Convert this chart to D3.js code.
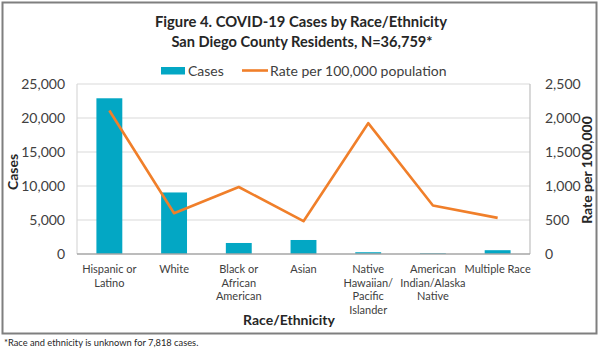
<!DOCTYPE html>
<html><head><meta charset="utf-8">
<script src="https://cdn.jsdelivr.net/npm/d3@7"></script>
<style>body{margin:0;background:#fff}svg{display:block;font-family:Lato,"Liberation Sans",sans-serif}</style>
</head><body>
<script>
const categories = [["Hispanic or","Latino"],["White"],["Black or","African","American"],["Asian"],["Native","Hawaiian/","Pacific","Islander"],["American","Indian/Alaska","Native"],["Multiple Race"]];
const cases = [22900, 9050, 1620, 2060, 260, 110, 560];
const rates = [2110, 600, 985, 482, 1924, 714, 531];
const leftTicks = [0, 5000, 10000, 15000, 20000, 25000];
const rightTicks = [0, 500, 1000, 1500, 2000, 2500];

const W = 600, H = 351;
const svg = d3.select("body").append("svg").attr("width", W).attr("height", H);
const m = {l: 77, r: 530, t: 84, b: 254};

svg.append("rect").attr("x", 2.5).attr("y", 2.5).attr("width", 594).attr("height", 331)
  .attr("fill", "#fff").attr("stroke", "#7f7f7f").attr("stroke-width", 2);

const x = d3.scaleBand().domain(d3.range(categories.length)).range([m.l, m.r]).padding(0);
const yL = d3.scaleLinear().domain([0, 25000]).range([m.b, m.t]);
const yR = d3.scaleLinear().domain([0, 2500]).range([m.b, m.t]);

// gridlines
svg.append("g").selectAll("line").data(leftTicks.slice(1)).join("line")
  .attr("x1", m.l).attr("x2", m.r).attr("y1", d => yL(d)).attr("y2", d => yL(d))
  .attr("stroke", "#d9d9d9").attr("stroke-width", 1.2);
svg.append("line").attr("x1", m.l).attr("x2", m.l).attr("y1", m.t).attr("y2", m.b).attr("stroke", "#d9d9d9").attr("stroke-width", 1.2);
svg.append("line").attr("x1", m.r).attr("x2", m.r).attr("y1", m.t).attr("y2", m.b).attr("stroke", "#bfbfbf").attr("stroke-width", 1.2);

// bars
const bw = x.bandwidth() * 0.4;
svg.append("g").selectAll("rect").data(cases).join("rect")
  .attr("x", (d, i) => x(i) + x.bandwidth() / 2 - bw / 2)
  .attr("width", bw)
  .attr("y", d => yL(d)).attr("height", d => yL(0) - yL(d))
  .attr("fill", "#03A7C4");

svg.append("line").attr("x1", m.l).attr("x2", m.r).attr("y1", m.b).attr("y2", m.b).attr("stroke", "#a6a6a6").attr("stroke-width", 1.5);

// line
const line = d3.line().x((d, i) => x(i) + x.bandwidth() / 2).y(d => yR(d));
svg.append("path").datum(rates).attr("d", line).attr("fill", "none")
  .attr("stroke", "#F07F2A").attr("stroke-width", 2.6).attr("stroke-linejoin", "round");

// axes
const fmt = d3.format(",");
const axL = d3.axisLeft(yL).tickValues(leftTicks).tickFormat(fmt).tickSize(0).tickPadding(12);
const gL = svg.append("g").attr("transform", `translate(${m.l},0)`).call(axL);
gL.select(".domain").remove();
gL.selectAll("text").attr("font-size", 14).attr("fill", "#404040").attr("font-family", "Lato,sans-serif");

const axR = d3.axisRight(yR).tickValues(rightTicks).tickFormat(fmt).tickSize(0).tickPadding(15);
const gR = svg.append("g").attr("transform", `translate(${m.r},0)`).call(axR);
gR.select(".domain").remove();
gR.selectAll("text").attr("font-size", 14).attr("fill", "#404040").attr("font-family", "Lato,sans-serif");

// x labels
const gx = svg.append("g");
categories.forEach((lines, i) => {
  const cx = x(i) + x.bandwidth() / 2;
  const t = gx.append("text").attr("x", cx).attr("y", 273)
    .attr("text-anchor", "middle").attr("font-size", 11).attr("fill", "#404040");
  lines.forEach((s, j) => t.append("tspan").attr("x", cx).attr("dy", j ? 13.5 : 0).text(s));
});

// axis titles
svg.append("text").attr("transform", "translate(18,172) rotate(-90)").attr("text-anchor", "middle")
  .attr("font-size", 14).attr("font-weight", "bold").attr("fill", "#262626").text("Cases");
svg.append("text").attr("transform", "translate(592,170) rotate(-90)").attr("text-anchor", "middle")
  .attr("font-size", 14).attr("font-weight", "bold").attr("fill", "#262626").text("Rate per 100,000");
svg.append("text").attr("x", 289).attr("y", 325).attr("text-anchor", "middle")
  .attr("font-size", 14).attr("font-weight", "bold").attr("fill", "#262626").text("Race/Ethnicity");

// title
svg.append("text").attr("x", 301).attr("y", 27).attr("text-anchor", "middle")
  .attr("font-size", 14.8).attr("font-weight", "bold").attr("fill", "#262626").text("Figure 4. COVID-19 Cases by Race/Ethnicity");
svg.append("text").attr("x", 302).attr("y", 47).attr("text-anchor", "middle")
  .attr("font-size", 14.6).attr("font-weight", "bold").attr("fill", "#262626").text("San Diego County Residents, N=36,759*");

// legend
svg.append("rect").attr("x", 161).attr("y", 67).attr("width", 24).attr("height", 7.5).attr("fill", "#03A7C4");
svg.append("text").attr("x", 188).attr("y", 75.5).attr("font-size", 14).attr("fill", "#404040").text("Cases");
svg.append("line").attr("x1", 242).attr("x2", 268).attr("y1", 70.5).attr("y2", 70.5).attr("stroke", "#F07F2A").attr("stroke-width", 2.6);
svg.append("text").attr("x", 270).attr("y", 75.5).attr("font-size", 14).attr("fill", "#404040").text("Rate per 100,000 population");

// footnote
svg.append("text").attr("x", 4).attr("y", 346).attr("font-size", 9.3).attr("fill", "#262626").text("*Race and ethnicity is unknown for 7,818 cases.");
</script>
</body></html>
